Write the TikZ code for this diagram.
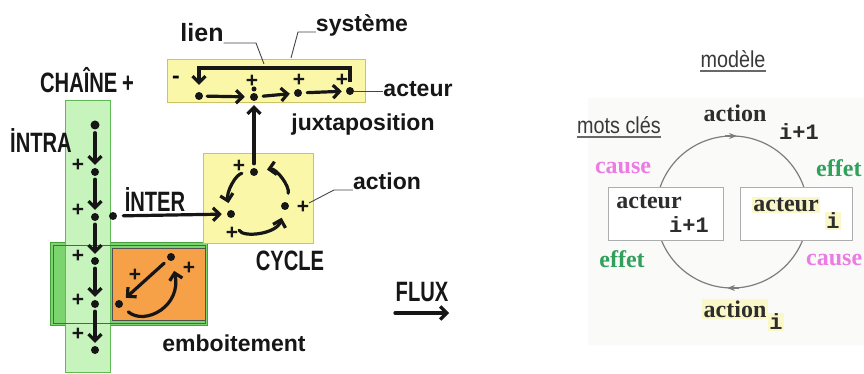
\documentclass[tikz,border=0pt]{standalone}
\usepackage{fontspec}
\usetikzlibrary{arrows.meta}
% hand-lettered look: condensed capitals, plain lowercase
\newfontfamily\handcaps{Liberation Sans}[FakeStretch=0.72]
\newfontfamily\handlow{Liberation Sans}
\newfontfamily\printserif{Liberation Serif}
\newfontfamily\printmono{Liberation Mono}
\newfontfamily\printsans{Liberation Sans}[FakeStretch=0.86]

\definecolor{ink}{RGB}{22,22,22}
\definecolor{stripgreen}{RGB}{198,244,188}
\definecolor{stripedge}{RGB}{95,185,85}
\definecolor{nestgreen}{RGB}{124,212,110}
\definecolor{nestedge}{RGB}{70,160,60}
\definecolor{nestorange}{RGB}{246,160,72}
\definecolor{boxyellow}{RGB}{250,248,168}
\definecolor{boxyellowedge}{RGB}{205,195,100}
\definecolor{markyellow}{RGB}{250,247,200}
\definecolor{causepink}{RGB}{236,124,228}
\definecolor{effetgreen}{RGB}{48,160,92}
\definecolor{ringgray}{RGB}{125,125,125}
\definecolor{panelgray}{RGB}{250,250,248}

\tikzset{
  actor/.style={circle, fill=ink, inner sep=0pt, minimum size=8pt},
  plusmark/.style={font=\handlow\bfseries\fontsize{21}{21}\selectfont, inner sep=0pt, text=ink},
  flow/.style={line width=3.2pt, draw=ink, line cap=round,
    -{Straight Barb[length=6.5pt,width=13pt]}},
  leader/.style={draw=ink!80, line width=0.9pt},
  capslabel/.style={font=\handcaps\bfseries\fontsize{28}{28}\selectfont, inner sep=0pt, text=ink},
  lowlabel/.style={font=\handlow\bfseries\fontsize{23}{23}\selectfont, inner sep=0pt, text=ink},
  serifword/.style={font=\printserif\bfseries\fontsize{24}{24}\selectfont, inner sep=0pt, text=ink!90},
  monoidx/.style={font=\printmono\bfseries\fontsize{22}{22}\selectfont, inner sep=0pt, text=ink!90},
  marked/.style={fill=markyellow, inner sep=1.5pt},
  sanshead/.style={font=\printsans\fontsize{23}{23}\selectfont, inner sep=0pt, text=ink!85},
  headrule/.style={draw=ink!65, line width=1.3pt},
  ringtip/.style={draw=ringgray, line width=1.2pt, -{Stealth[length=8pt,width=6pt]}},
}

\begin{document}
\begin{tikzpicture}[x=1pt, y=-1pt]
\clip (0,0) rectangle (864,374);
\fill[white] (0,0) rectangle (864,374);

% ---------- left: hand-drawn scheme ----------
% nesting frame, chain strip and orange nest
\filldraw[fill=nestgreen, draw=nestedge, line width=0.8pt] (50,242) rectangle (207,325);
\filldraw[fill=stripgreen, draw=stripedge, line width=0.9pt] (65,100) rectangle (110,372);
\draw[ink!70, line width=0.6pt] (53,245) rectangle (205,323);
\filldraw[fill=nestorange, draw=ink!75, line width=0.8pt] (112,248) rectangle (205,320);

% yellow boxes
\filldraw[fill=boxyellow, draw=boxyellowedge, line width=0.8pt] (167,59) rectangle (365,102);
\filldraw[fill=boxyellow, draw=boxyellowedge, line width=0.8pt] (203,153) rectangle (313,243);

% chain (intra)
\node[actor, minimum size=9pt] (c0) at (95,125) {};
\node[actor] (c1) at (95,172) {};
\node[actor] (c2) at (95,217) {};
\node[actor] (c3) at (95,261) {};
\node[actor] (c4) at (95,304) {};
\node[actor] (c5) at (95,350) {};
\foreach \a/\b in {c0/c1, c1/c2, c2/c3, c3/c4, c4/c5}
  \draw[flow, shorten <=3pt, shorten >=3pt] (\a) -- (\b);
\node[plusmark] (p1) at (78,165) {+};
\node[plusmark] (p2) at (78,210) {+};
\node[plusmark] (p3) at (78,256) {+};
\node[plusmark] (p4) at (78,300) {+};
\node[plusmark] (p5) at (78,334) {+};

% cycle
\node[actor] (ct) at (254,172) {};
\node[actor] (cl) at (231,214) {};
\node[actor] (cr) at (285,206) {};
\node[plusmark] (ctp) at (239,166) {+};
\node[plusmark] (clp) at (232,233) {+};
\node[plusmark] (crp) at (303,207) {+};
\draw[flow, shorten <=8pt, shorten >=7pt] (ct) .. controls (236,174) and (226,192) .. (cl);
\draw[flow, shorten <=14pt, shorten >=8pt] (cl) .. controls (243,238) and (277,234) .. (cr);
\draw[flow, shorten <=9pt, shorten >=9pt] (cr) .. controls (290,186) and (276,168) .. (ct);

% inter link
\node[actor] (idot) at (113,216) {};
\draw[flow, shorten <=6pt, shorten >=5pt] (idot) -- (cl);

% system line
\node[actor] (t1) at (199,96) {};
\node[actor] (t2) at (254,97) {};
\node[actor, minimum size=5pt] (t2b) at (254,89) {};
\node[actor] (t3) at (298,93) {};
\node[actor] (t4) at (350,91) {};
\node[plusmark] (t2p) at (252,81) {+};
\node[plusmark] (t3p) at (299,80) {+};
\node[plusmark] (t4p) at (342,80) {+};
\node[font=\handlow\bfseries\fontsize{23}{23}\selectfont, inner sep=0pt] (minus) at (176,80) {-};
\coordinate (bar) at (0,68);
\draw[flow, shorten <=4pt, shorten >=5pt] (t1) -- (t2);
\draw[flow, shorten <=5pt, shorten >=4pt] (t2) -- (t3);
\draw[flow, shorten <=5pt, shorten >=4pt] (t3) -- (t4);
\draw[flow, line cap=butt, shorten <=5pt, shorten >=7pt] (t4) -- (t4 |- bar) -- (t1 |- bar) -- (t1);
\draw[flow, shorten <=4pt, shorten >=4pt] (ct) -- (t2);

% nest
\node[actor] (oa) at (171,257) {};
\node[actor] (ob) at (119,304) {};
\node[plusmark] (oap) at (189,268) {+};
\node[plusmark] (obp) at (135,275) {+};
\draw[flow, shorten <=5pt, shorten >=5pt] (oa) -- (ob);
\draw[flow, shorten <=8pt, shorten >=10pt] (ob) .. controls (145,326) and (182,306) .. (oa);

% flux
\coordinate (fluxa) at (395,313);
\coordinate (fluxb) at (449,313);
\draw[flow] (fluxa) -- (fluxb);

% labels
\node[capslabel] (lchain) at (87,80) {CHAÎNE\,+};
\node[capslabel] (lintra) at (41,141) {İNTRA};
\node[capslabel] (linter) at (155,200) {İNTER};
\node[capslabel] (lcycle) at (290,261) {CYCLE};
\node[capslabel] (lflux) at (422,292) {FLUX};
\node[lowlabel] (lemb) at (234,343) {emboitement};
\node[lowlabel] (ljux) at (363,125) {juxtaposition};
\node[lowlabel] (lact) at (418,89) {acteur};
\node[lowlabel, font=\handlow\bfseries\fontsize{25}{25}\selectfont] (llien) at (202,33) {lien};
\node[lowlabel] (lsys) at (362,25) {système};
\node[lowlabel] (laction) at (387,181) {action};

% leader lines
\draw[leader] (llien.east |- 0,43) -- (256,43) -- (264,64);
\draw[leader] (lsys.west |- 0,32) -- (298,32) -- (291,58);
\draw[leader] (t4.east) -- (lact.west |- t4.east);
\draw[leader] (laction.west |- 0,190) -- (334,190) -- (309,203);

% ---------- right: model ----------
\fill[panelgray] (588,98) rectangle (864,345);
\draw[ringgray, line width=1.2pt] (732,212) circle[radius=76];
\coordinate (rt1) at (725,136);
\coordinate (rt2) at (737,136);
\coordinate (rb1) at (739,288);
\coordinate (rb2) at (727,288);
\draw[ringtip] (rt1) -- (rt2);
\draw[ringtip] (rb1) -- (rb2);

\filldraw[fill=white, draw=ink!35, line width=0.8pt] (608,187) rectangle (723,240);
\filldraw[fill=white, draw=ink!35, line width=0.8pt] (740,187) rectangle (852,240);

\node[serifword] (aL) at (649,202) {acteur};
\node[monoidx] (aLi) at (689,225) {i+1};
\node[serifword, marked] (aR) at (786,205) {acteur};
\node[monoidx, marked] (aRi) at (833,221) {i};

\node[serifword] (xT) at (735,113) {action};
\node[monoidx] (xTi) at (799,132) {i+1};
\node[serifword, marked] (xB) at (735,309) {action};
\node[monoidx, marked] (xBi) at (776,322) {i};

\node[serifword, text=causepink, anchor=center] (cTL) at (623,168) {cause};
\node[serifword, text=effetgreen, anchor=west] (eTR) at (816,168) {effet};
\node[serifword, text=effetgreen, anchor=center] (eBL) at (622,259) {effet};
\node[serifword, text=causepink, anchor=west] (cBR) at (806,260) {cause};

\node[sanshead] (hmod) at (733,59) {modèle};
\draw[headrule] (hmod.west |- 0,71) -- (hmod.east |- 0,71);
\node[sanshead] (hkey) at (619,125) {mots clés};
\draw[headrule] (hkey.west |- 0,137) -- (hkey.east |- 0,137);
\end{tikzpicture}
\end{document}
